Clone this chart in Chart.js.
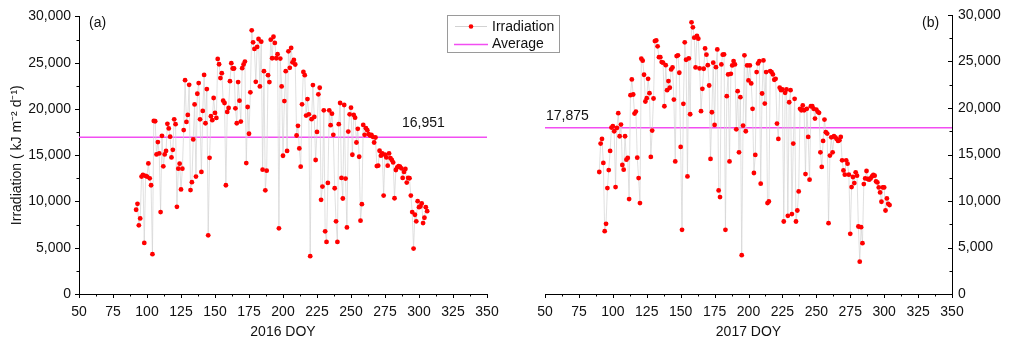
<!DOCTYPE html>
<html>
<head>
<meta charset="UTF-8">
<title>Irradiation 2016 / 2017</title>
<script src="https://cdn.jsdelivr.net/npm/chart.js"></script>
<style>
  body { margin: 0; background: #fff; }
  .wrap { position: relative; width: 1013px; height: 344px; }
  canvas { position: absolute; left: 0; top: 0; }
</style>
</head>
<body>
<div class="wrap">
  <canvas id="chart2016" width="1013" height="344"></canvas>
  <canvas id="chart2017" width="1013" height="344"></canvas>
</div>
<script>
  // daily irradiation (kJ m-2 d-1), first value is on firstDoy
  var firstDoy2016 = 92;
  var irr2016 = [
    9105, 9750, 7420, 8170, 12685, 12865, 5515, 12760, 12685, 14115,
    12505, 11750, 4300, 18705, 18670, 15085, 16415, 15190, 8850, 17090,
    13795, 15085, 15460, 18390, 17890, 17000, 14760, 15580, 18880, 18350,
    9425, 13545, 14080, 11300, 13545, 17710, 23110, 18600, 19350, 22610,
    11230, 12080, 16700, 20490, 12685, 21640, 22790, 18880, 13190, 19780,
    23680, 18455, 22150, 6340, 14720, 19210, 18780, 21180, 19570, 19030,
    25400, 24830, 23330, 23860, 20890, 20640, 11750, 19675, 20100, 23000,
    24940, 24370, 24370, 20070, 18455, 22900, 20890, 18630, 24400, 24800,
    25120, 14150, 20210, 17320, 21790, 28490, 27200, 26480, 22930, 26700,
    27560, 22430, 27270, 13440, 24080, 11200, 13330, 23650, 22900, 27490,
    25480, 27800, 27130, 25480, 25910, 7095, 25440, 22430, 14940, 20850,
    24080, 15460, 26230,
    24440, 26590, 25040, 25300, 24800, 17130, 18170, 15730, 13760, 20500,
    24000, 23650, 19280, 21070, 19420, 4085, 18890, 22575, 19135, 14480,
    17520, 21575, 22290, 10180, 11610, 19850, 6770, 5625, 12005, 19850,
    18240, 19490, 17200, 11430, 7850, 5625, 18350, 20640, 12545, 10320,
    20425, 12470, 7200, 17555, 19420, 20135, 15050, 19350, 19060, 16370,
    17845, 14835, 7920, 9710, 18275, 17200, 17920, 17705, 17275, 17130,
    17200, 16985, 16370, 16915, 13830, 13870, 15480, 14945, 15195, 10640,
    15050, 14760, 13870, 15195, 14690, 14480, 14220, 10350, 13400, 13690,
    13830, 13760, 13580, 12545, 13190, 13510, 12040, 12545, 12510, 10640,
    8850, 4910, 8565, 7850, 10030, 9385, 9460, 9780, 7665, 8240,
    9385, 8955
  ];
  var avg2016 = 16951;

  var firstDoy2017 = 90;
  var irr2017 = [
    13120, 16170, 16680, 14090, 6760, 7550, 11390, 13330, 15380, 17890,
    18035, 17500, 11500, 17850, 19440, 16960, 18220, 13870, 13370, 16960,
    14445, 14630, 10210, 21380, 23070, 21450, 19400, 19620, 14660, 12470,
    9780, 25300, 25085, 23575, 20700, 21055, 23140, 21595, 14735, 17570,
    21020, 27200, 27270, 26630, 25470, 25470, 24935, 24870, 20190, 24610,
    21915, 22890, 22175, 24150, 24360, 20910, 14260, 25580, 25660, 23790,
    15815, 6900, 20450, 27060, 25190, 12645, 25330, 19330, 29210, 28675,
    27560, 24360, 27740, 27450, 24255, 19655, 22065, 24220, 26410, 25730,
    24610, 22420, 14520, 19545, 24870, 18185, 24395, 26300, 11135, 10420,
    24685, 25730, 25765, 6900, 21270, 23610, 14260, 23680, 24580, 25050,
    24685, 17710, 21810, 15230, 21160, 4170, 18110, 25660, 17500, 24580,
    22960,
    24580, 22640, 19910, 13010, 14950, 23860, 24795, 25050, 11860, 21560,
    25120, 20480, 23860, 9780, 9950, 23970, 23860, 23610, 23040, 23140,
    18330, 16680, 22175, 21915, 21990, 7795, 21635, 21990, 8410, 20620,
    21915, 8590, 16170, 20990, 7795, 8980, 11030, 19910, 19760, 20270,
    19760, 12900, 19910, 16890, 12290, 20190, 20190, 19910, 18865, 19835,
    19590, 19480, 15230, 13660, 16460, 18760, 17390, 17250, 7620, 14880,
    16850, 15230, 16960, 16850, 16680, 16460, 16530, 16890, 14370, 13290,
    12830, 14370, 14015, 12830, 6470, 11500, 12580, 11930, 13080, 12720,
    7260, 3480, 7190, 5465, 11825, 12430, 13225, 12365, 12290, 12430,
    12645, 12795, 12720, 12110, 12000, 11460, 10920, 9920, 11460, 11460,
    8980, 10275, 9700, 9560
  ];
  var avg2017 = 17875;

  var xRange = [50, 350];
  var yRange = [0, 30000];

  var FONT = '"Liberation Sans", Arial, sans-serif';
  var INK = '#111';

  function toPoints(first, values) {
    return values.map(function (v, i) { return { x: first + i, y: v }; });
  }

  // small tick marks, major + minor, drawn by hand so they can point inward
  var tickMarks = {
    id: 'tickMarks',
    afterDraw: function (chart) {
      var ctx = chart.ctx, xs = chart.scales.x, ys = chart.scales.y;
      var axisX = ys.position === 'left' ? ys.right : ys.left;
      ctx.save();
      ctx.strokeStyle = '#000';
      ctx.lineWidth = 1;
      ctx.beginPath();
      for (var v = xRange[0]; v <= xRange[1]; v += 12.5) {
        var px = Math.round(xs.getPixelForValue(v)) + 0.5;
        var len = v % 25 === 0 ? 4 : 2.5;
        ctx.moveTo(px, xs.top);
        ctx.lineTo(px, xs.top + len);
      }
      for (var w = yRange[0]; w <= yRange[1]; w += 2500) {
        var py = Math.round(ys.getPixelForValue(w)) + 0.5;
        var l = w % 5000 === 0 ? 4 : 2.5;
        ctx.moveTo(axisX, py);
        ctx.lineTo(axisX - l, py);
      }
      ctx.stroke();
      ctx.restore();
    }
  };

  // panel letter, average value text and the legend box
  var notes = {
    id: 'notes',
    afterDraw: function (chart, args, o) {
      var ctx = chart.ctx;
      ctx.save();
      ctx.font = '14px ' + FONT;
      ctx.fillStyle = INK;
      ctx.textBaseline = 'middle';
      ctx.textAlign = 'left';
      ctx.fillText(o.panel, o.panelX, 23);
      var yAvg = chart.scales.y.getPixelForValue(o.avg);
      ctx.fillText(o.avg.toLocaleString('en-US'), o.avgX, yAvg - o.avgDy);

      if (o.legend) {
        ctx.strokeStyle = '#9a9a9a';
        ctx.lineWidth = 1;
        ctx.strokeRect(447.5, 15.5, 112, 37);
        var ds = chart.data.datasets;
        // Irradiation
        ctx.strokeStyle = ds[0].borderColor;
        ctx.lineWidth = 1;
        ctx.beginPath();
        ctx.moveTo(455, 26.5); ctx.lineTo(487, 26.5);
        ctx.stroke();
        ctx.fillStyle = ds[0].pointBackgroundColor;
        ctx.beginPath();
        ctx.arc(471, 26.5, 2.3, 0, Math.PI * 2);
        ctx.fill();
        // Average
        ctx.strokeStyle = ds[1].borderColor;
        ctx.lineWidth = 1.5;
        ctx.beginPath();
        ctx.moveTo(454, 44.5); ctx.lineTo(488, 44.5);
        ctx.stroke();
        ctx.fillStyle = INK;
        ctx.fillText(ds[0].label, 492, 27);
        ctx.fillText(ds[1].label, 492, 44);
      }
      ctx.restore();
    }
  };

  function makeChart(id, first, values, avg, side, xTitle, notesOpts) {
    var yScale = {
      type: 'linear',
      position: side,
      min: yRange[0],
      max: yRange[1],
      grid: { display: true, drawOnChartArea: false, drawTicks: false },
      border: { display: true, color: '#000', width: 1 },
      ticks: {
        stepSize: 5000,
        padding: side === 'left' ? 8 : 6,
        color: INK,
        font: { family: FONT, size: 14 },
        callback: function (v) { return v.toLocaleString('en-US'); }
      },
      afterFit: function (s) { s.width = side === 'left' ? 79 : 61; }
    };
    if (side === 'left') {
      yScale.title = {
        display: true,
        text: 'Irradiation ( kJ m\u207B\u00B2 d\u207B\u00B9)',
        color: INK,
        font: { family: FONT, size: 14 },
        padding: { top: 9, bottom: 0 }
      };
    }

    return new Chart(document.getElementById(id), {
      type: 'scatter',
      data: {
        datasets: [
          {
            label: 'Irradiation',
            data: toPoints(first, values),
            showLine: true,
            borderColor: '#d2d2d2',
            borderWidth: 0.7,
            pointRadius: 2.4,
            pointBorderWidth: 0,
            pointBackgroundColor: '#ff0000'
          },
          {
            label: 'Average',
            data: [{ x: xRange[0], y: avg }, { x: xRange[1], y: avg }],
            showLine: true,
            borderColor: '#f24ef2',
            borderWidth: 1.5,
            pointRadius: 0
          }
        ]
      },
      options: {
        responsive: false,
        animation: false,
        events: [],
        layout: {
          padding: side === 'left'
            ? { left: 0, top: 15, right: 1013 - 487, bottom: 0 }
            : { left: 545, top: 15, right: 0, bottom: 0 }
        },
        plugins: {
          legend: { display: false },
          tooltip: { enabled: false },
          notes: notesOpts
        },
        scales: {
          x: {
            type: 'linear',
            min: xRange[0],
            max: xRange[1],
            grid: { display: true, drawOnChartArea: false, drawTicks: false },
            border: { display: true, color: '#000', width: 1 },
            ticks: {
              stepSize: 25,
              padding: 10,
              maxRotation: 0,
              color: INK,
              font: { family: FONT, size: 14 }
            },
            title: {
              display: true,
              text: xTitle,
              color: INK,
              font: { family: FONT, size: 14 },
              padding: { top: 0, bottom: 3 }
            },
            afterFit: function (s) { s.height = 50; }
          },
          y: yScale
        }
      },
      plugins: [tickMarks, notes]
    });
  }

  makeChart('chart2016', firstDoy2016, irr2016, avg2016, 'left', '2016 DOY',
    { panel: '(a)', panelX: 89, avg: avg2016, avgX: 402, avgDy: 14, legend: true });
  makeChart('chart2017', firstDoy2017, irr2017, avg2017, 'right', '2017 DOY',
    { panel: '(b)', panelX: 922, avg: avg2017, avgX: 546, avgDy: 12, legend: false });
</script>
</body>
</html>
